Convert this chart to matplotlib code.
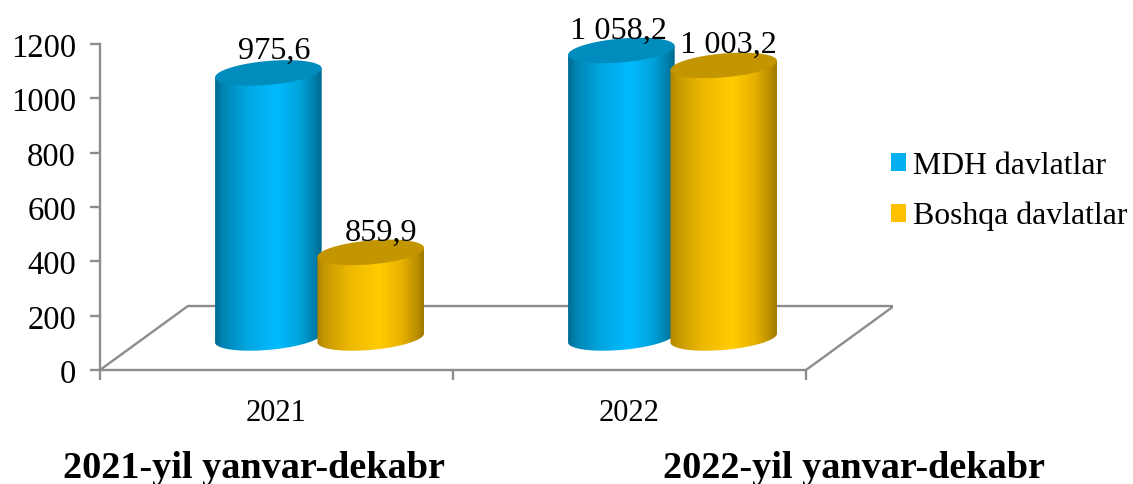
import numpy as np
import matplotlib
matplotlib.use("Agg")
import matplotlib.pyplot as plt
from matplotlib.colors import LinearSegmentedColormap
from matplotlib.patches import Patch, PathPatch, Polygon
from matplotlib.path import Path
from matplotlib.transforms import ScaledTranslation

plt.rcParams["font.family"] = ["Liberation Serif", "DejaVu Serif"]

years = ["2021", "2022"]
series = ["MDH davlatlar", "Boshqa davlatlar"]
# drawn heights, the 2021 orange bar is much shorter than its label says
mdh_heights = [975.6, 1058.2]
other_heights = [315, 1003.2]
mdh_labels = ["975,6", "1 058,2"]
other_labels = ["859,9", "1 003,2"]
yticks = [0, 200, 400, 600, 800, 1000, 1200]
captions = ["2021-yil yanvar-dekabr", "2022-yil yanvar-dekabr"]

W, H = 1133, 484
BASE = 118      # cylinders stand in the middle of the floor
DEPTH_X, DEPTH_Y = 0.249, 235.5
BAR_W = 0.302
B, SLOPE = 44, 109
GRAY = "#8c8c8c"


def cylinder(ax, xc, height, side, top, z):
    a = BAR_W / 2
    y0, y1 = BASE, BASE + height
    t = np.linspace(np.pi, 2 * np.pi, 80)
    ex, ey = a * np.cos(t), B * np.sin(t)
    low = np.column_stack([xc + ex, y0 + ey + SLOPE * ex])
    outline = np.vstack([low, [[xc + a, y1 + SLOPE * a]], [[xc - a, y1 - SLOPE * a]], low[:1]])
    patch = PathPatch(Path(outline), fc="none", ec="none", zorder=z)
    ax.add_patch(patch)
    cmap = LinearSegmentedColormap.from_list("c", side)
    im = ax.imshow(np.linspace(0, 1, 256)[None, :], cmap=cmap, aspect="auto",
                   extent=[xc - a, xc + a, y0 - 100, y1 + 100], zorder=z)
    im.set_clip_path(patch)
    t = np.linspace(0, 2 * np.pi, 120)
    ex, ey = a * np.cos(t), B * np.sin(t)
    ax.add_patch(Polygon(np.column_stack([xc + ex, y1 + ey + SLOPE * ex]),
                         fc=top, ec="none", zorder=z + 0.1))


blue_side = [(0, "#006a92"), (0.07, "#0083b2"), (0.3, "#00a6e0"), (0.58, "#00bbff"),
             (0.8, "#00a2da"), (0.94, "#007ca8"), (1, "#00678e")]
orange_side = [(0, "#ad8400"), (0.07, "#c69800"), (0.3, "#edb800"), (0.58, "#ffcc00"),
               (0.8, "#e6b000"), (0.94, "#b98d00"), (1, "#9f7a00")]

fig = plt.figure(figsize=(W / 100, H / 100), dpi=100)
ax = fig.add_axes([100 / W, (H - 370) / H, 793 / W, 342.3 / H])

# floor
ax.plot([0, DEPTH_X, 2 + DEPTH_X, 2], [0, DEPTH_Y, DEPTH_Y, 0], color=GRAY, lw=1.7, zorder=1)

z = 2
label_shift = {"975,6": (6, 14), "859,9": (10, 12), "1 058,2": (-3, 11.5), "1 003,2": (5, 13)}
for i in range(len(years)):
    centre = i + 0.622
    for xc, h, lab, side, top in [(centre - 0.145, mdh_heights[i], mdh_labels[i], blue_side, "#008cbc"),
                                  (centre + 0.145, other_heights[i], other_labels[i], orange_side, "#c39500")]:
        cylinder(ax, xc, h, side, top, z)
        z += 1
        dx, dy = label_shift[lab]
        ax.annotate(lab, (xc, BASE + h), xytext=(dx, dy), textcoords="offset pixels",
                    ha="center", va="baseline", fontsize=23.2, color="black", zorder=20)

ax.set_xlim(0, 793 / 353)
ax.set_ylim(0, 1260)
for s in ["top", "right"]:
    ax.spines[s].set_visible(False)
for s in ["left", "bottom"]:
    ax.spines[s].set_color(GRAY)
    ax.spines[s].set_linewidth(1.7)
ax.spines["left"].set_bounds(0, 1200)
ax.spines["bottom"].set_bounds(0, 2)
ax.set_yticks(yticks)
ax.set_xticks([0, 1, 2])
ax.set_xticklabels([])
ax.set_xticks([0.5, 1.5], labels=years, minor=True)
ax.tick_params(axis="both", which="major", color=GRAY, width=1.7, length=7.2, labelsize=23.5, pad=10)
ax.tick_params(axis="x", which="minor", length=0, labelsize=22, pad=21)

# y labels sit a little lower than their ticks in the original
nudge = ScaledTranslation(0, -1 / 72, fig.dpi_scale_trans)
for lab in ax.get_yticklabels():
    lab.set_transform(lab.get_transform() + nudge)

handles = [Patch(fc="#00b0f0", ec="none"), Patch(fc="#ffc000", ec="none")]
fig.legend(handles, series, loc="upper left", bbox_to_anchor=(881 / W, 1 - 142 / H), frameon=False,
           fontsize=22.9, handlelength=0.5, handleheight=0.5, handletextpad=0.22,
           labelspacing=0.66, borderpad=0.3, borderaxespad=0)

fig.text(63 / W, 1 - 478 / H, captions[0], fontsize=27.5, fontweight="bold", va="baseline")
fig.text(663 / W, 1 - 478 / H, captions[1], fontsize=27.5, fontweight="bold", va="baseline")

fig.savefig("out.png", dpi=100)
